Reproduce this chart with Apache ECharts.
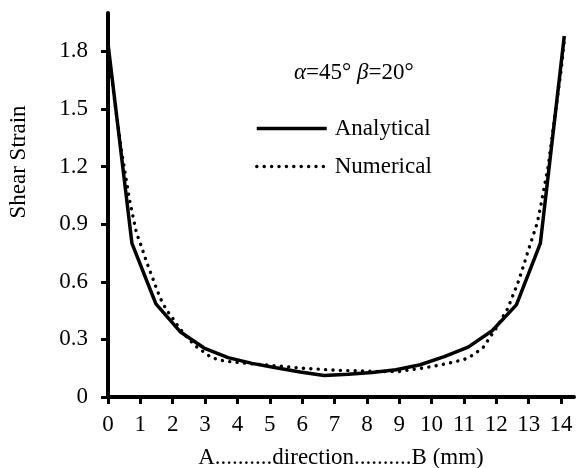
<!DOCTYPE html>
<html>
<head>
<meta charset="utf-8">
<script src="https://cdn.jsdelivr.net/npm/echarts@6/dist/echarts.min.js"></script>
<style>
  html, body { margin: 0; padding: 0; background: #fff; }
  #chart { width: 576px; height: 468px; }
</style>
</head>
<body>
<div id="chart"></div>
<script>
// distances along A-B (mm) and strains
const distanceA = [0, 0.74, 1.48, 2.23, 2.97, 3.71, 4.45, 5.19, 5.94, 6.68, 7.42, 8.16, 8.9, 9.65, 10.39, 11.13, 11.87, 12.62, 13.36, 14.1]
const analytical = [1.84, 0.80, 0.485, 0.34, 0.255, 0.205, 0.175, 0.152, 0.13, 0.112, 0.118, 0.128, 0.142, 0.168, 0.21, 0.26, 0.345, 0.48, 0.80, 1.88]

const distanceN = [0, 0.2, 0.4, 0.66, 0.88, 1.04, 1.2, 1.4, 1.6, 1.8, 2.0, 2.2, 2.5, 2.75, 3.2, 3.6, 4.0, 4.5, 5.0, 5.5, 6.0, 6.5, 7.0, 7.5, 8.0, 8.5, 9.0, 9.5, 10.0, 10.5, 11.0, 11.3, 11.6, 12.0, 12.35, 12.7, 13.0, 13.27, 13.4, 13.6, 13.8, 14.0, 14.1]
const numerical = [1.82, 1.55, 1.30, 1.03, 0.855, 0.78, 0.70, 0.61, 0.52, 0.455, 0.41, 0.36, 0.30, 0.26, 0.205, 0.187, 0.18, 0.172, 0.165, 0.158, 0.15, 0.145, 0.14, 0.137, 0.135, 0.133, 0.133, 0.145, 0.158, 0.175, 0.195, 0.22, 0.26, 0.36, 0.46, 0.61, 0.77, 0.91, 1.02, 1.2, 1.45, 1.7, 1.86]

const xTicks = [0, 1, 2, 3, 4, 5, 6, 7, 8, 9, 10, 11, 12, 13, 14]
const yTicks = [0, 0.3, 0.6, 0.9, 1.2, 1.5, 1.8]

const font = 'Liberation Serif'
const fs = 23
const solid = { color: '#000', width: 3.5 }
const dotted = { color: '#000', width: 3.4, type: [0.1, 7.3], cap: 'round' }

const chart = echarts.init(document.getElementById('chart'))

const pairs = (xs, ys) => xs.map((x, i) => [x, ys[i]])

chart.setOption({
  animation: false,
  backgroundColor: '#fff',
  textStyle: { fontFamily: font, color: '#000' },
  title: {
    text: '{i|α}=45° {i|β}=20°',
    left: 294,
    top: 61,
    padding: 0,
    textStyle: {
      fontFamily: font,
      fontSize: fs,
      fontWeight: 'normal',
      color: '#000',
      rich: {
        i: { fontFamily: font, fontSize: fs, fontStyle: 'italic', color: '#000' }
      }
    }
  },
  legend: {
    orient: 'vertical',
    left: 255,
    top: 117,
    padding: 0,
    itemWidth: 70,
    itemHeight: 20,
    itemGap: 15,
    itemStyle: { opacity: 0 },
    textStyle: { fontFamily: font, fontSize: fs, color: '#000', padding: [0, 0, 0, 3] },
    data: [
      { name: 'Analytical', lineStyle: solid },
      { name: 'Numerical', lineStyle: dotted }
    ]
  },
  grid: { left: 108, right: 2, top: 13, bottom: 71, outerBoundsMode: 'none' },
  xAxis: {
    type: 'value',
    min: 0,
    max: 14.4,
    name: 'A..........direction..........B (mm)',
    nameLocation: 'middle',
    nameGap: 49,
    nameTextStyle: { fontFamily: font, fontSize: fs, color: '#000' },
    axisLine: { onZero: false, lineStyle: { color: '#000', width: 4 } },
    axisTick: { customValues: xTicks, length: 7, lineStyle: { color: '#000', width: 3 } },
    axisLabel: { customValues: xTicks, margin: 16, fontFamily: font, fontSize: fs, color: '#000' },
    splitLine: { show: false }
  },
  yAxis: {
    type: 'value',
    min: 0,
    max: 2.0,
    name: 'Shear Strain',
    nameLocation: 'middle',
    nameGap: 78,
    nameTextStyle: { fontFamily: font, fontSize: fs, color: '#000', padding: [0, 0, 0, 86] },
    axisLine: { show: true, onZero: false, lineStyle: { color: '#000', width: 4 } },
    axisTick: { show: true, customValues: yTicks, length: 7, lineStyle: { color: '#000', width: 3 } },
    axisLabel: {
      customValues: yTicks,
      margin: 20,
      fontFamily: font,
      fontSize: fs,
      color: '#000',
      formatter: v => (v === 0 ? '0' : v.toFixed(1))
    },
    splitLine: { show: false }
  },
  series: [
    {
      name: 'Analytical',
      type: 'line',
      symbol: 'none',
      clip: false,
      lineStyle: solid,
      itemStyle: { color: '#000' },
      data: pairs(distanceA, analytical)
    },
    {
      name: 'Numerical',
      type: 'line',
      symbol: 'none',
      clip: false,
      lineStyle: dotted,
      itemStyle: { color: '#000' },
      data: pairs(distanceN, numerical)
    }
  ]
})
</script>
</body>
</html>
